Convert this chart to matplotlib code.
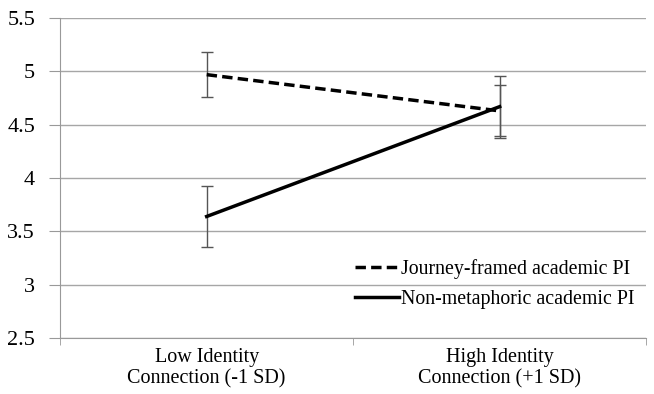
import numpy as np
import matplotlib
matplotlib.use('Agg')
import matplotlib.pyplot as plt

plt.rcParams['font.family'] = ['Liberation Serif', 'DejaVu Serif']

categories = ['Low Identity\nConnection (-1 SD)', 'High Identity\nConnection (+1 SD)']
journey = [4.97, 4.63]
journey_err = [0.21, 0.24]
nonmeta = [3.64, 4.67]
nonmeta_err = [0.29, 0.29]
yticks = [2.5, 3, 3.5, 4, 4.5, 5, 5.5]
ytick_labels = ['2.5', '3', '3.5', '4', '4.5', '5', '5.5']

fig = plt.figure(figsize=(6.54, 3.94), dpi=100)
ax = fig.add_axes([0.092, 0.142, 0.896, 0.812])

x = np.arange(len(categories))

ax.errorbar(x, journey, yerr=journey_err, fmt='none', ecolor='#555555',
            elinewidth=1, capsize=4, capthick=1, zorder=2)
ax.errorbar(x, nonmeta, yerr=nonmeta_err, fmt='none', ecolor='#555555',
            elinewidth=1, capsize=4, capthick=1, zorder=2)
ax.plot(x, journey, color='black', linestyle=(0, (3, 1.5)), linewidth=2.5,
        label='Journey-framed academic PI', zorder=3)
ax.plot(x, nonmeta, color='black', linestyle='-', linewidth=2.5,
        label='Non-metaphoric academic PI', zorder=3)

ax.set_xlim(-0.5, 1.5)
ax.set_ylim(2.5, 5.5)
ax.set_yticks(yticks)
ax.set_yticklabels(ytick_labels, fontsize=16)
ax.set_xticks(x)
ax.set_xticklabels(categories, fontsize=14.5, linespacing=1.15)
ax.tick_params(axis='x', length=0, pad=7)
ax.set_xticks([-0.5, 0.5, 1.5], minor=True)
ax.tick_params(axis='x', which='minor', length=5, color='#999999')
ax.tick_params(axis='y', length=8, color='#999999', pad=10)

ax.yaxis.grid(True, color='#a6a6a6', linewidth=1)
ax.set_axisbelow(True)
for s in ['top', 'right']:
    ax.spines[s].set_visible(False)
for s in ['left', 'bottom']:
    ax.spines[s].set_color('#999999')

leg = ax.legend(loc='lower right', bbox_to_anchor=(1.0, 0.055), frameon=False,
                fontsize=14.3, handlelength=2.2, handletextpad=0.1, labelspacing=0.55,
                borderaxespad=0.2)

fig.savefig('out.png', dpi=100)
